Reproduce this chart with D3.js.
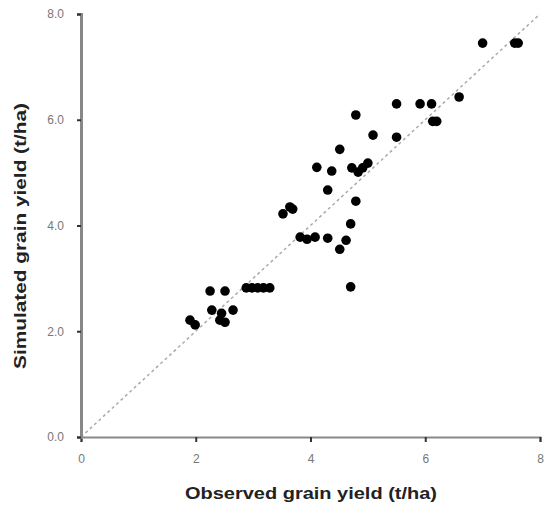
<!DOCTYPE html>
<html>
<head>
<meta charset="utf-8">
<title>Observed vs simulated grain yield</title>
<script src="https://cdn.jsdelivr.net/npm/d3@7"></script>
<style>
    body { margin: 0; background: #fff; font-family: "Liberation Sans", Arial, sans-serif; }
    .axis text { fill: #777; font-size: 12px; }
    .title { font-weight: bold; font-size: 17px; fill: #222; }
</style>
</head>
<body>
<script>
// observed (x) and simulated (y) grain yield, t/ha
const observed = [1.90, 1.99, 2.25, 2.51, 2.88, 2.98, 3.08, 3.18, 3.29, 2.28, 2.45, 2.42, 2.51, 2.65,
    3.52, 3.64, 3.69, 3.82, 3.94, 4.08, 4.30, 4.11, 4.37, 4.72, 4.83, 4.91, 5.00, 4.51, 4.30,
    4.79, 4.70, 4.62, 4.51, 4.70, 4.79, 5.09, 5.50, 5.50, 5.91, 6.11, 6.13, 6.20, 6.59, 7.00, 7.56, 7.62];
const simulated = [2.21, 2.12, 2.76, 2.76, 2.82, 2.82, 2.82, 2.82, 2.82, 2.40, 2.34, 2.21, 2.17, 2.40,
    4.22, 4.35, 4.31, 3.78, 3.74, 3.78, 3.76, 5.10, 5.03, 5.09, 5.01, 5.09, 5.18, 5.44, 4.67,
    4.46, 4.03, 3.72, 3.55, 2.84, 6.09, 5.71, 5.67, 6.30, 6.30, 6.30, 5.97, 5.97, 6.43, 7.45, 7.45, 7.45];
const ticks = [0, 2, 4, 6, 8];

const width = 544, height = 510;

const svg = d3.select('body').append('svg')
    .attr('width', width)
    .attr('height', height);

const x = d3.scaleLinear().domain([0, 8]).range([81, 540]);
const y = d3.scaleLinear().domain([0, 8]).range([437, 14]);

// 1:1 line
svg.append('line')
    .attr('x1', x(0)).attr('y1', y(0))
    .attr('x2', x(8)).attr('y2', y(8))
    .attr('stroke', '#aaa')
    .attr('stroke-width', 1.5)
    .attr('stroke-dasharray', '3,3');

const xAxis = svg.append('g')
    .attr('class', 'axis')
    .attr('transform', `translate(0,${y(0)})`)
    .call(d3.axisBottom(x).tickValues(ticks).tickSize(5).tickPadding(12).tickFormat(d3.format('d')));
xAxis.select('.domain').attr('stroke', '#888').attr('stroke-width', 2);
xAxis.selectAll('.tick line').attr('stroke', '#333').attr('stroke-width', 2);

const yAxis = svg.append('g')
    .attr('class', 'axis')
    .attr('transform', `translate(${x(0)},0)`)
    .call(d3.axisLeft(y).tickValues(ticks).tickSize(4).tickPadding(13).tickFormat(d3.format('.1f')));
yAxis.select('.domain').attr('stroke', '#888').attr('stroke-width', 3);
yAxis.selectAll('.tick line').attr('stroke', '#333').attr('stroke-width', 2);

svg.append('g')
    .selectAll('circle')
    .data(observed.map((d, i) => [d, simulated[i]]))
    .join('circle')
    .attr('cx', d => x(d[0]))
    .attr('cy', d => y(d[1]))
    .attr('r', 4.8)
    .attr('fill', '#000');

svg.append('text')
    .attr('class', 'title')
    .attr('x', 311)
    .attr('y', 499)
    .attr('text-anchor', 'middle')
    .attr('textLength', 252)
    .attr('lengthAdjust', 'spacingAndGlyphs')
    .text('Observed grain yield (t/ha)');

svg.append('text')
    .attr('class', 'title')
    .attr('transform', 'translate(26,236) rotate(-90)')
    .attr('text-anchor', 'middle')
    .attr('textLength', 266)
    .attr('lengthAdjust', 'spacingAndGlyphs')
    .text('Simulated grain yield (t/ha)');
</script>
</body>
</html>
